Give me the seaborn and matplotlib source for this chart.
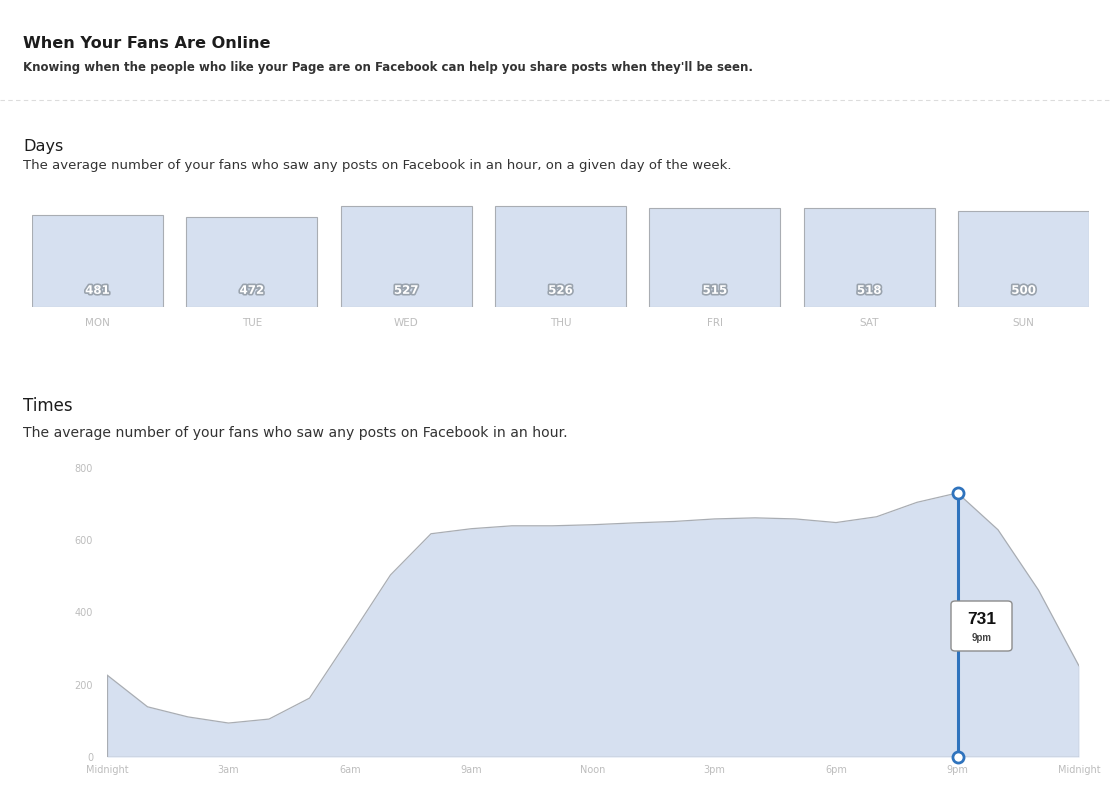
import matplotlib
matplotlib.use("Agg")
import matplotlib.pyplot as plt
import seaborn as sns
import pandas as pd
from matplotlib.lines import Line2D
from matplotlib.patches import FancyBboxPatch
import matplotlib.patheffects as pe

# ---- data ----
days = ["MON", "TUE", "WED", "THU", "FRI", "SAT", "SUN"]
day_values = [481, 472, 527, 526, 515, 518, 500]

hours = list(range(25))
hour_values = [227, 139, 111, 94, 105, 163, 332, 504, 618, 632, 640, 640,
               643, 648, 652, 659, 662, 659, 649, 665, 705, 731, 629, 462, 252]
hour_ticks = [0, 3, 6, 9, 12, 15, 18, 21, 24]
hour_tick_labels = ["Midnight", "3am", "6am", "9am", "Noon", "3pm", "6pm", "9pm", "Midnight"]
y_ticks = [0, 200, 400, 600, 800]
peak_hour = 21
peak_value = 731
peak_label = "9pm"

title = "When Your Fans Are Online"
subtitle = "Knowing when the people who like your Page are on Facebook can help you share posts when they'll be seen."
days_title = "Days"
days_sub = "The average number of your fans who saw any posts on Facebook in an hour, on a given day of the week."
times_title = "Times"
times_sub = "The average number of your fans who saw any posts on Facebook in an hour."

# ---- style ----
sns.set_theme(style="white")
plt.rcParams["font.family"] = ["DejaVu Sans"]

W, H = 1111, 788
fig = plt.figure(figsize=(W / 100, H / 100), dpi=100)
fig.patch.set_facecolor("white")

def fy(px):
    return 1 - px / H

def fx(px):
    return px / W

dark = "#1c1c1c"
fill_c = "#d6e0f0"
edge_c = "#a9adb3"
light_txt = "#bdbdbd"

fig.text(fx(23), fy(44), title, fontsize=11.6, fontweight="bold", color=dark, va="center")
fig.text(fx(23), fy(67), subtitle, fontsize=8.45, fontweight="bold", color="#333333", va="center")
fig.add_artist(Line2D([0, 1], [fy(100), fy(100)], transform=fig.transFigure,
                      color="#dcdcdc", lw=0.8, ls=(0, (4, 3))))
fig.text(fx(23), fy(146), days_title, fontsize=11.6, color=dark, va="center")
fig.text(fx(23), fy(166), days_sub, fontsize=9.5, color="#333333", va="center")
fig.text(fx(23), fy(406), times_title, fontsize=12, color=dark, va="center")
fig.text(fx(23), fy(433), times_sub, fontsize=10.1, color="#333333", va="center")

# ---- days bars ----
ax_d = fig.add_axes([fx(32), fy(307), fx(1089 - 32), (600 * 101 / 527) / H])
df_days = pd.DataFrame({"day": days, "value": day_values})
sns.barplot(data=df_days, x="day", y="value", ax=ax_d, color=fill_c, saturation=1,
            width=0.848, edgecolor=edge_c, linewidth=0.8)
ax_d.set_xlim(-0.424, 6.424)
ax_d.set_ylim(0, 600)
ax_d.set_xlabel("")
ax_d.set_ylabel("")
ax_d.set_yticks([])
for s in ax_d.spines.values():
    s.set_visible(False)
ax_d.tick_params(axis="x", length=0, pad=8, labelsize=7.5, labelcolor=light_txt)
for i, v in enumerate(day_values):
    ax_d.annotate(str(v), xy=(i, 0), xytext=(0, 12), textcoords="offset points",
                  ha="center", va="center", fontsize=8.5, fontweight="bold", color="white",
                  path_effects=[pe.withStroke(linewidth=2.4, foreground="#9aa3ad")])

# ---- times area ----
ax_t = fig.add_axes([fx(107), fy(757), fx(1079 - 107), (757 - 468) / H])
df_h = pd.DataFrame({"hour": hours, "value": hour_values})
ax_t.fill_between(df_h["hour"], 0, df_h["value"], color=fill_c, lw=0)
sns.lineplot(data=df_h, x="hour", y="value", ax=ax_t, color=edge_c, lw=0.9)
ax_t.plot([0, 0], [0, hour_values[0]], color=edge_c, lw=0.9)
ax_t.plot([24, 24], [0, hour_values[-1]], color=edge_c, lw=0.9)
ax_t.axhline(0, color=edge_c, lw=1.0)
ax_t.set_xlim(0, 24)
ax_t.set_ylim(0, 800)
ax_t.set_xticks(hour_ticks)
ax_t.set_xticklabels(hour_tick_labels)
ax_t.set_yticks(y_ticks)
ax_t.set_xlabel("")
ax_t.set_ylabel("")
for s in ax_t.spines.values():
    s.set_visible(False)
ax_t.tick_params(axis="x", length=0, pad=6, labelsize=7, labelcolor=light_txt)
ax_t.tick_params(axis="y", length=0, pad=10, labelsize=7, labelcolor=light_txt)

blue = "#2f73bd"
ax_t.plot([peak_hour, peak_hour], [0, peak_value], color=blue, lw=2.2, clip_on=False, zorder=5)
ax_t.plot([peak_hour, peak_hour], [0, peak_value], ls="none", marker="o", ms=8,
          mfc="white", mec=blue, mew=2, clip_on=False, zorder=6)

# tooltip box
box = FancyBboxPatch((fx(951), fy(651)), fx(61), (651 - 601) / H,
                     boxstyle="round,pad=0,rounding_size=0.004",
                     transform=fig.transFigure, facecolor="white",
                     edgecolor="#8c8c8c", lw=1.0, zorder=10)
fig.patches.append(box)
fig.text(fx(982), fy(619), str(peak_value), fontsize=12.5, fontweight="bold",
         color="#111111", ha="center", va="center", zorder=11,
         family=["Liberation Sans", "DejaVu Sans"])
fig.text(fx(982), fy(638), peak_label, fontsize=7, fontweight="bold",
         color="#444444", ha="center", va="center", zorder=11,
         family=["Liberation Sans", "DejaVu Sans"])

fig.savefig("out.png", dpi=100, facecolor="white")
